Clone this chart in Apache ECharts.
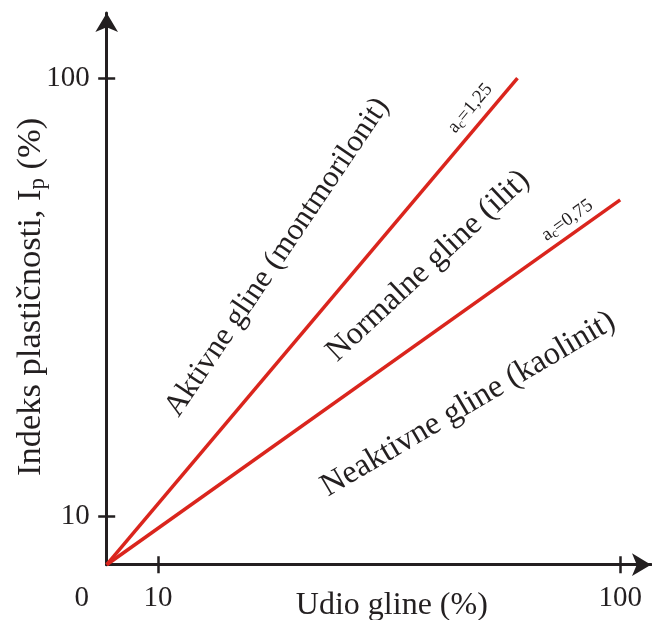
<!DOCTYPE html>
<html>
<head>
<meta charset="utf-8">
<script src="https://cdn.jsdelivr.net/npm/echarts@6/dist/echarts.min.js"></script>
<style>html,body{margin:0;padding:0;background:#fff;}#c{width:652px;height:620px;}</style>
</head>
<body>
<div id="c"></div>
<script>
// ---- data ----
const xTickValues = [10, 100];
const xLabelValues = [0, 10, 100];
const yTickValues = [10, 100];
const lineNames = ['a_c=1,25', 'a_c=0,75'];
const activeLine = [[0, 0], [80, 100]];     // Ip = 1.25 * clay
const inactiveLine = [[0, 0], [100, 75]];   // Ip = 0.75 * clay
const zoneNames = ['Aktivne gline (montmorilonit)', 'Normalne gline (ilit)', 'Neaktivne gline (kaolinit)'];
const xName = 'Udio gline (%)';
const yName = 'Indeks plastičnosti, I{sub|p} (%)';

// ---- styling / annotation placement ----
const FONT = '"Liberation Serif","Times New Roman",serif';
const INK = '#231f20';
const RED = '#da251d';
const zoneAnchors = [[33.2, 63.2], [62.6, 61.4], [70.4, 33.0]];
const zoneRotate = [56, 43, 30.5];
const zoneFont = [31, 32, 32.5];
const lineLabelAnchors = [[70.8, 93.8], [89.7, 70.8]];
const lineLabelRotate = [50, 35.5];

const chart = echarts.init(document.getElementById('c'), null, {renderer: 'canvas'});

const baseX = {
  type: 'value', min: 0, max: 106, position: 'bottom',
  splitLine: {show: false}
};
const baseY = {
  type: 'value', min: 0, max: 113.4, position: 'left',
  splitLine: {show: false}
};

const option = {
  backgroundColor: '#fff',
  animation: false,
  grid: {left: 106.7, right: 1, top: 13, bottom: 55.3, containLabel: false, outerBoundsMode: 'none'},
  xAxis: [
    Object.assign({}, baseX, {
      name: xName, nameLocation: 'middle', nameGap: 25, nameMoveOverlap: false,
      nameTextStyle: {fontFamily: FONT, fontSize: 32, color: INK, padding: [0, 0, 0, 26]},
      axisLine: {show: true, lineStyle: {color: INK, width: 3}, symbol: ['none', 'arrow'], symbolSize: [17, 19]},
      axisTick: {show: true, inside: false, length: 8.5, lineStyle: {color: INK, width: 2.5}, customValues: xTickValues},
      axisLabel: {
        show: true, margin: 19, customValues: xLabelValues,
        fontFamily: FONT, fontSize: 29, color: INK,
        formatter: v => v === 0 ? '{z|0}' : String(v),
        rich: {z: {fontFamily: FONT, fontSize: 29, color: INK, padding: [0, 50, 0, 0]}}
      }
    }),
    Object.assign({}, baseX, {
      axisLine: {show: false},
      axisTick: {show: true, inside: true, length: 8.5, lineStyle: {color: INK, width: 2.5}, customValues: xTickValues},
      axisLabel: {show: false}
    })
  ],
  yAxis: [
    Object.assign({}, baseY, {
      name: yName, nameLocation: 'middle', nameGap: 57, nameRotate: 90, nameMoveOverlap: false,
      nameTextStyle: {
        fontFamily: FONT, fontSize: 34.5, color: INK, padding: [0, 16, 0, 0],
        rich: {sub: {fontFamily: FONT, fontSize: 23, color: INK, verticalAlign: 'bottom', padding: [14, 0, 0, 0]}}
      },
      axisLine: {show: true, lineStyle: {color: INK, width: 3}, symbol: ['none', 'arrow'], symbolSize: [17, 19]},
      axisTick: {show: true, inside: false, length: 8.5, lineStyle: {color: INK, width: 2.5}, customValues: yTickValues},
      axisLabel: {show: true, margin: 17, customValues: yTickValues, fontFamily: FONT, fontSize: 29, color: INK}
    }),
    Object.assign({}, baseY, {
      axisLine: {show: false},
      axisTick: {show: true, inside: true, length: 8.5, lineStyle: {color: INK, width: 2.5}, customValues: yTickValues},
      axisLabel: {show: false}
    })
  ],
  series: [
    {
      name: lineNames[0], type: 'line', data: activeLine, symbol: 'none',
      lineStyle: {color: RED, width: 3.5}, z: 5
    },
    {
      name: lineNames[1], type: 'line', data: inactiveLine, symbol: 'none',
      lineStyle: {color: RED, width: 3.5}, z: 5
    },
    {
      type: 'scatter', symbolSize: 0, silent: true, z: 6,
      itemStyle: {opacity: 1},
      data: zoneNames.map((n, i) => ({
        value: zoneAnchors[i], name: n,
        label: {show: true, position: 'inside', rotate: zoneRotate[i], formatter: n, opacity: 1,
          fontFamily: FONT, fontSize: zoneFont[i], color: INK}
      }))
    },
    {
      type: 'scatter', symbolSize: 0, silent: true, z: 6,
      itemStyle: {opacity: 1},
      data: lineNames.map((n, i) => ({
        value: lineLabelAnchors[i], name: n,
        label: {show: true, position: 'inside', rotate: lineLabelRotate[i], opacity: 1,
          formatter: 'a{s|c}=' + n.split('=')[1],
          fontFamily: FONT, fontSize: 19, color: INK,
          rich: {s: {fontFamily: FONT, fontSize: 13, color: INK, verticalAlign: 'bottom', padding: [8, 0, 0, 0]}}}
      }))
    }
  ]
};
chart.setOption(option);
</script>
</body>
</html>
